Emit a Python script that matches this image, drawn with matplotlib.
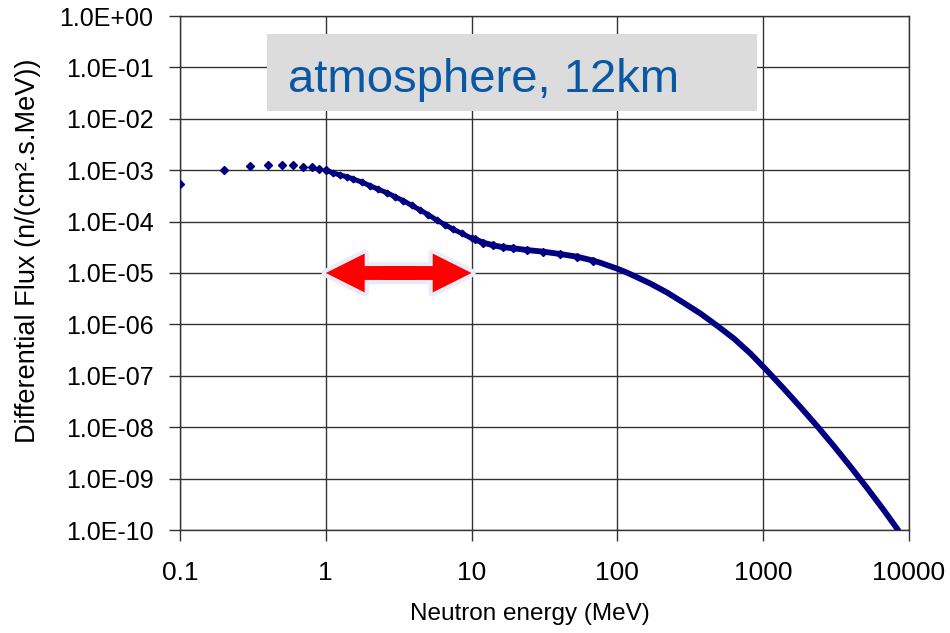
import matplotlib
matplotlib.use("Agg")
import matplotlib.pyplot as plt
from matplotlib.ticker import FixedLocator, FuncFormatter, NullLocator
from matplotlib.patches import FancyArrowPatch, Rectangle

plt.rcParams['font.family'] = ['Liberation Sans', 'DejaVu Sans']

# sparse low-energy points (MeV, n/(cm2.s.MeV))
energy_sparse = [0.1, 0.2, 0.3, 0.4, 0.5, 0.6, 0.7, 0.8, 0.9, 1.0]
flux_sparse = [5.4e-4, 1.0e-3, 1.23e-3, 1.29e-3, 1.29e-3, 1.29e-3, 1.18e-3, 1.13e-3, 1.06e-3, 1.0e-3]

# dense part of the spectrum, below the 10 MeV knee
energy_low = [1.0, 1.115, 1.25, 1.39, 1.54, 1.76, 2.01, 2.29, 2.62, 2.98, 3.4, 3.88, 4.43,
              5.05, 5.76, 6.57, 7.49, 8.55, 10.0]
flux_low = [1.0e-3, 8.94e-4, 8.07e-4, 7.48e-4, 6.74e-4, 5.89e-4, 5.0e-4, 4.25e-4, 3.65e-4,
            3.05e-4, 2.55e-4, 2.07e-4, 1.68e-4, 1.36e-4, 1.07e-4, 8.7e-5, 7.08e-5, 5.9e-5, 4.73e-5]

# dense part above the knee
energy_high = [10.55, 12.0, 14.1, 16.5, 19.3, 23.9, 31.0, 40.4, 52.6, 68.4, 77, 88.9, 100, 116,
               130, 169, 220, 286, 372, 484, 630, 819, 1065, 1386, 1803, 2344, 3048, 3965,
               5157, 6704, 8412]
flux_high = [4.52e-5, 3.89e-5, 3.46e-5, 3.16e-5, 3.03e-5, 2.80e-5, 2.60e-5, 2.34e-5, 2.08e-5,
             1.74e-5, 1.57e-5, 1.36e-5, 1.21e-5, 1.02e-5, 8.8e-6, 6.2e-6, 4.14e-6, 2.61e-6,
             1.62e-6, 9.4e-7, 5.3e-7, 2.7e-7, 1.25e-7, 5.6e-8, 2.45e-8, 1.05e-8, 4.32e-9,
             1.71e-9, 6.58e-10, 2.45e-10, 1.0e-10]

x_ticks = [0.1, 1, 10, 100, 1000, 10000]
y_ticks = [1e-10, 1e-9, 1e-8, 1e-7, 1e-6, 1e-5, 1e-4, 1e-3, 1e-2, 1e-1, 1]
arrow_range = (1.0, 10.0)
arrow_level = 1e-5

fig = plt.figure(figsize=(9.5, 6.33), dpi=100)
ax = fig.add_axes([180/950, 1-530/633, (909-180)/950, (530-16)/633])
ax.set_xscale('log')
ax.set_yscale('log')
ax.set_xlim(0.1, 10000)
ax.set_ylim(1e-10, 1)

navy = '#000080'
ax.plot(energy_low, flux_low, color=navy, lw=3.6, solid_capstyle='round', zorder=3)
ax.plot(energy_low, flux_low, linestyle='none', marker='D', ms=3.4, color=navy, zorder=3)
ax.plot(energy_high, flux_high, color=navy, lw=4.2, solid_capstyle='round', zorder=3)
ax.plot(energy_high[:10], flux_high[:10], linestyle='none', marker='D', ms=3.6, color=navy, zorder=3)
ax.plot(energy_sparse, flux_sparse, linestyle='none', marker='D', ms=3.6, color=navy, zorder=4)

ax.xaxis.set_major_locator(FixedLocator(x_ticks))
ax.yaxis.set_major_locator(FixedLocator(y_ticks))
ax.xaxis.set_minor_locator(NullLocator())
ax.yaxis.set_minor_locator(NullLocator())
ax.xaxis.set_major_formatter(FuncFormatter(lambda v, p: f"{v:g}"))
ax.yaxis.set_major_formatter(FuncFormatter(lambda v, p: f"{v:.1E}"))
ax.tick_params(axis='both', which='major', direction='out', length=8, width=1, color='#333333')
ax.tick_params(axis='y', labelsize=18, pad=11)
ax.tick_params(axis='x', labelsize=19, pad=14)
ax.grid(True, which='major', color='#333333', lw=1)
for s in ax.spines.values():
    s.set_color('#333333')
    s.set_linewidth(1)
ax.set_axisbelow(True)

ax.set_xlabel('Neutron energy (MeV)', fontsize=17.5)
ax.xaxis.set_label_coords((530-180)/729, (530-603)/514)
ax.set_ylabel('Differential Flux (n/(cm².s.MeV))', fontsize=19.5)
ax.yaxis.set_label_coords((41-180)/729, (530-251)/514)

# double red arrow: glow first, then the red shapes (the two halves overlap in the middle)
mid = (arrow_range[0] * arrow_range[1]) ** 0.5
style = 'simple,head_length=28,head_width=28,tail_width=10'
for end in arrow_range:
    ax.add_patch(FancyArrowPatch((mid, arrow_level), (end, arrow_level), arrowstyle=style,
                                 mutation_scale=1, shrinkA=0, shrinkB=0, facecolor='#dfe5f5',
                                 edgecolor='#e8ecf8', lw=6, zorder=5))
starts = (mid * 1.3, mid / 1.3)
for start, end in zip(starts, arrow_range):
    ax.add_patch(FancyArrowPatch((start, arrow_level), (end, arrow_level), arrowstyle=style,
                                 mutation_scale=1, shrinkA=0, shrinkB=0, color='#ff0000',
                                 lw=0, zorder=6))

# title box
fig.patches.append(Rectangle((267/950, 1-111/633), 490/950, 77/633, transform=fig.transFigure,
                             facecolor='#dcdcdc', edgecolor='none', zorder=10))
fig.text(288/950, 1-92/633, 'atmosphere, 12km', fontsize=34, color='#0b57a4',
         va='baseline', ha='left', zorder=11)

fig.savefig('out.png', dpi=100)
